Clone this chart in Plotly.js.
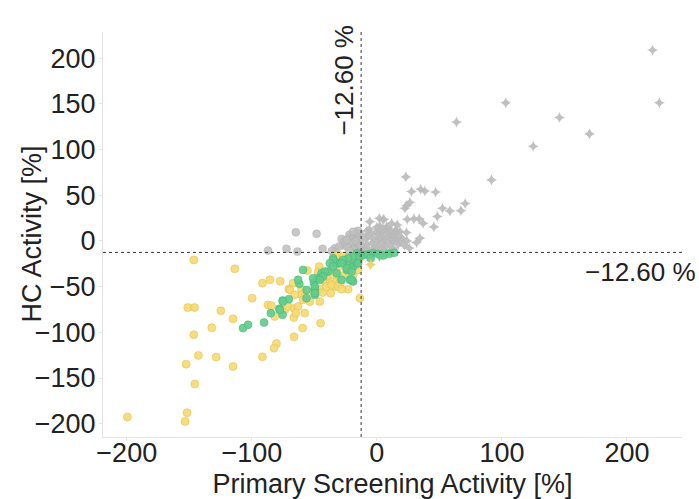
<!DOCTYPE html>
<html>
<head>
<meta charset="utf-8">
<script src="https://cdn.plot.ly/plotly-3.0.1.min.js"></script>
<style>html,body{margin:0;padding:0;background:#fff;}#chart{width:699px;height:499px;}</style>
</head>
<body>
<div id="chart"></div>
<script>
// Threshold lines
const threshold = -12.6;
const thresholdLabel = "\u221212.60 %";
const xTitle = 'Primary Screening Activity [%]';
const yTitle = 'HC Activity [%]';

// Gray crosses (active in both, upper-right quadrant)
const crossX = [220.5,225.9,103,63.7,146,170,125,91.7,23.2,27.7,35,38.4,47,26.4,23.8,22.4,52.5,58.4,67.2,70.6,48.3,24.3,29.6,33.9,37,45.6,5.6,16.3,18.4,23.7,31.7,34.4,14.4,13,-5.6,1.9,5,2.4,7.8,11.8,15.7,
  -10,-8,-6,-4,-2,0,1,2,3,4,5,6,7,8,9,10,11,12,13,14,15,16,17,18,19,20,-9,-7,-5,-3,-1,1,3,5,7,9,11,-11,-2,6,12,22,24,26,-6,0,-12,-8,4,-4];
const crossY = [208.7,151,151,130,135,117,103.5,66.7,70,54,56.5,54.6,53.5,42.3,38.6,35.7,35.7,32.8,33.1,40.8,26.6,23.7,24,24,19.3,15.3,23.7,17.5,10.2,9.1,-1.8,3,3,-0.8,21,24.8,23,16.4,15.6,19.3,10.2,
  -8,-4,-10,-2,-7,0,-5,3,-9,6,-2,1,-6,4,9,-3,2,6,-8,7,12,1,-4,5,-1,3,2,5,8,3,10,7,12,10,13,14,11,-12,-11,-11,-10,-5,0,-8,13,15,7,11,-13,-14];

// Colored crosses just below the horizontal threshold
const yellowCrossX = [-5];
const yellowCrossY = [-26];
const greenCrossX = [2, 8];
const greenCrossY = [-17, -14];

// Gray circles (upper-left quadrant)
const grayX = [-64.8,-48.2,-28.2,-21.6,-16.2,-87,-72.3,-63.5,-43.4,-33.6,-27,-22,-19,-16,-20,-24,-17.6,-15,-14,-18,-22,-26,-30,-13.5,-15,-19,-24,-36,-13,-17];
const grayY = [9.5,7.7,2.2,4,4.7,-10.6,-8.7,-11.7,-8.7,-8,-4.4,6.6,3,8.4,-2.5,-6.2,-6.2,-2.5,-9,-10,-11,-1,-6,1,11,10,1,-11,-5,0];

// Yellow circles
const yellowX = [-146.4,-113.6,-91.5,-85.6,-77.3,-67,-70.4,-99.7,-87,-84.3,-81.6,-73.6,-71,-66.2,-66.4,-63,-151.2,-145.8,-124.8,-115,-132,-146.4,-66.2,-80.3,-82.2,-142.7,-128.5,-152.5,-115,-91.5,-145.6,-199.5,-151.8,-153.3,
  -55.5,-46.1,-47,-41.6,-40.2,-35,-33.6,-69.6,-60.2,-60.2,-57.6,-45.6,-43.4,-37,-41.6,-37.6,-32.2,-33.6,
  -32.2,-33.6,-31,-27,-29.6,-25.6,-29.6,-23,-19,-23,-13.6,-45.6,-40.2,-20.2,-15,-25.6,
  -65.6,-59,-64.8,-57.6,-59.4,-45,-53.6,-51,-36.2,-31,-28.2,-18,-22,-14,-28,-17];
const yellowY = [-20.8,-30.6,-46.2,-42.6,-44,-46.2,-52.5,-62.6,-70,-71,-82.7,-75.4,-71.8,-74,-83.8,-71.8,-72.9,-72.9,-76.5,-85.2,-95,-102.7,-104.9,-112.2,-117.3,-125.3,-127.1,-134.8,-137.4,-126.8,-156.6,-192.7,-188,-197.5,
  -32.5,-28,-34.2,-34.6,-39.7,-37.2,-29.9,-53.6,-52.8,-59,-61.5,-52.8,-56.5,-57.2,-44.5,-46.2,-44.5,-50,
  -31.7,-17.1,-15.3,-17.1,-39,-37.2,-46.2,-33.6,-37.2,-52.8,-62.6,-66.3,-50,-22.6,-31.7,-28,
  -59,-64.5,-79,-79,-95.4,-90,-66.3,-55.4,-48,-50,-52.8,-15,-20,-20,-24,-27];

// Green circles
const greenX = [-107,-103,-90.2,-84.8,-75.4,-70.4,-78,-75.4,-62,
  -59,-56.2,-49.6,-50.4,-44.2,-47,-39,-35,-32.2,-49.6,
  -16,-19,-23,-27,-31,-35,-37.6,-21.6,-19,-16,-24,-21.6,-19,-41.6,-43,-13.6,-11,-3,1,
  -77.6,-75,-63,-49.6,-49.6,-56.2,-51,-45.6,-35,-32.2,-28.2,-24,-20.2,-28.2,-20.2,-15,
  5,10,14,-7,-5];
const greenY = [-95.4,-91.8,-89.3,-79,-65.2,-63.7,-74.3,-80.9,-47,
  -31.7,-53.6,-52.8,-45.6,-35.3,-40.8,-33.6,-19,-24.4,-59,
  -13.4,-17,-19,-20.8,-24.4,-20.8,-24.4,-26.2,-28,-24.4,-31.7,-42.6,-44.5,-33.6,-39,-17.1,-15.3,-13.4,-14.2,
  -75.4,-66.3,-42.6,-50,-57.2,-62.6,-40.8,-42.6,-28,-35.3,-24.4,-29.9,-33.6,-42.6,-42.6,-24.4,
  -16,-14,-13,-15,-19];

const circleSize = 8;
const traces = [
  {x: grayX, y: grayY, type: 'scatter', mode: 'markers',
   marker: {symbol: 'circle', size: circleSize, color: 'rgba(190,190,190,0.85)', line: {color: 'rgba(165,165,165,0.6)', width: 0.6}}},
  {x: crossX, y: crossY, type: 'scatter', mode: 'markers',
   marker: {symbol: 'star-diamond', size: 8, color: 'rgba(185,185,185,0.9)', line: {width: 0}}},
  {x: yellowX, y: yellowY, type: 'scatter', mode: 'markers',
   marker: {symbol: 'circle', size: circleSize, color: 'rgba(247,218,110,0.92)', line: {color: 'rgba(215,185,80,0.8)', width: 0.6}}},
  {x: greenX, y: greenY, type: 'scatter', mode: 'markers',
   marker: {symbol: 'circle', size: circleSize, color: 'rgba(95,205,140,0.92)', line: {color: 'rgba(70,175,115,0.8)', width: 0.6}}},
  {x: yellowCrossX, y: yellowCrossY, type: 'scatter', mode: 'markers',
   marker: {symbol: 'star-diamond', size: 8, color: 'rgba(240,210,100,0.95)', line: {width: 0}}},
  {x: greenCrossX, y: greenCrossY, type: 'scatter', mode: 'markers',
   marker: {symbol: 'star-diamond', size: 8, color: 'rgba(95,205,140,0.95)', line: {width: 0}}}
];

const fontFam = '"Liberation Sans", Arial, sans-serif';
const fs = 27;
const layout = {
  width: 699, height: 499,
  margin: {l: 103, r: 17, t: 32, b: 62},
  paper_bgcolor: '#fff', plot_bgcolor: '#fff',
  showlegend: false,
  font: {family: fontFam, size: fs, color: '#222'},
  xaxis: {
    range: [-219, 244], tickvals: [-200, -100, 0, 100, 200],
    ticktext: ['\u2212200', '\u2212100', '0', '100', '200'],
    showgrid: false, zeroline: false, showline: true, linecolor: '#e3e3e3', linewidth: 1,
    ticks: 'outside', ticklen: 3, tickcolor: '#e3e3e3', ticklabelstandoff: -11,
    tickfont: {family: fontFam, size: fs, color: '#222'},
    title: {text: xTitle, font: {family: fontFam, size: fs, color: '#222'}, standoff: 10}
  },
  yaxis: {
    range: [-214.5, 228.5], tickvals: [-200, -150, -100, -50, 0, 50, 100, 150, 200],
    ticktext: ['\u2212200', '\u2212150', '\u2212100', '\u221250', '0', '50', '100', '150', '200'],
    showgrid: false, zeroline: false, showline: true, linecolor: '#e3e3e3', linewidth: 1,
    ticks: 'outside', ticklen: 3, tickcolor: '#e3e3e3', ticklabelstandoff: -2,
    tickfont: {family: fontFam, size: fs, color: '#222'}
  },
  shapes: [
    {type: 'line', xref: 'x', yref: 'paper', x0: threshold, x1: threshold, y0: 0, y1: 1,
     line: {color: '#333', width: 1, dash: 'dot'}},
    {type: 'line', xref: 'paper', yref: 'y', x0: 0, x1: 1, y0: threshold, y1: threshold,
     line: {color: '#333', width: 1, dash: 'dot'}}
  ],
  annotations: [
    {text: yTitle, xref: 'paper', yref: 'paper', x: 0, y: 0.5, xanchor: 'center', yanchor: 'middle',
     textangle: -90, showarrow: false, xshift: -72, yshift: 0, font: {family: fontFam, size: fs, color: '#222'}},
    {text: thresholdLabel, xref: 'x', yref: 'paper', x: threshold, y: 1, xanchor: 'right', yanchor: 'top',
     textangle: -90, showarrow: false, xshift: -1, yshift: 9, font: {family: fontFam, size: 26, color: '#222'}},
    {text: thresholdLabel, xref: 'paper', yref: 'y', x: 1, y: threshold, xanchor: 'right', yanchor: 'top',
     showarrow: false, xshift: 16, yshift: -3, font: {family: fontFam, size: 26, color: '#222'}}
  ]
};

Plotly.newPlot('chart', traces, layout, {displayModeBar: false, staticPlot: true});
</script>
</body>
</html>
